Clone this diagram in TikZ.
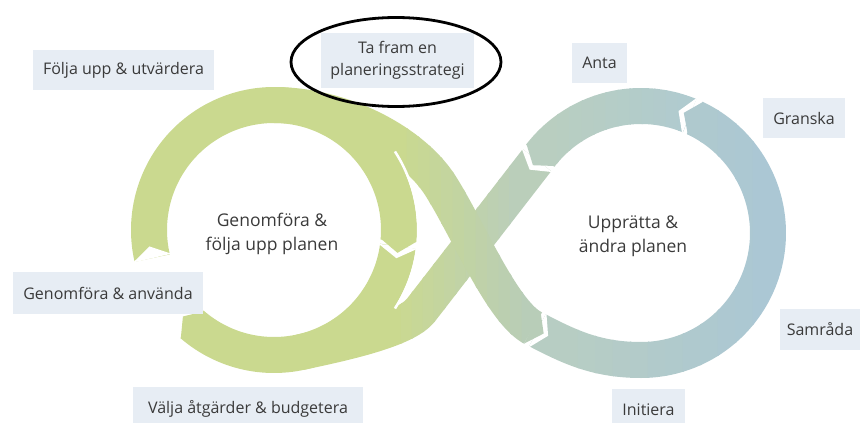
\documentclass[tikz,border=0pt]{standalone}
\usepackage{fontspec}
\setmainfont{Open Sans}
\usetikzlibrary{calc,shapes.geometric}
\definecolor{gL}{RGB}{202,217,143}
\definecolor{gA}{RGB}{184,205,184}
\definecolor{gB}{RGB}{186,206,186}
\definecolor{rA}{RGB}{183,205,195}
\definecolor{rB}{RGB}{171,199,212}
\definecolor{rC}{RGB}{185,206,192}
\definecolor{rD}{RGB}{176,203,207}
\definecolor{boxc}{RGB}{231,237,244}
\definecolor{txtc}{RGB}{58,58,58}
\newcommand{\bandpts}[6]{%
  \coordinate (#6) at ({#1+#3*cos(#4)},{#2+#3*sin(#4)});
  \coordinate (#6d) at ({#1+#3*cos(#4)-(#5)*sin(#4)},{#2+#3*sin(#4)+(#5)*cos(#4)});}
\newcommand{\tipAt}[3]{%
  \coordinate (tb) at ($(#1)!-0.8pt!(#2)$);
  \fill[#3] ($(tb)!18pt!90:(#2)$) -- ($(#1)!12pt!(#2)$) -- ($(tb)!18pt!-90:(#2)$) -- cycle;}
\newcommand{\notchAt}[2]{%
  \fill[white] ($(#1)!19.5pt!90:(#2)$) -- ($(#1)!12pt!(#2)$) -- ($(#1)!19.5pt!-90:(#2)$) -- cycle;}
\newcommand{\gradband}[5]{%
  \foreach \i in {0,...,11}{%
    \pgfmathsetmacro{\xa}{\i==0 ? -100 : #4+(#5-#4)*\i/12}%
    \pgfmathsetmacro{\xb}{\i==11 ? 960 : #4+(#5-#4)*(\i+1)/12+1.5}%
    \pgfmathtruncatemacro{\pc}{100*\i/11}%
    \begin{scope}
      \clip (\xa,-50) rectangle (\xb,480);
      \draw[band,#3!\pc!#2] #1;
    \end{scope}}}
\begin{document}
\begin{tikzpicture}[x=1pt,y=-1pt,
  band/.style={line width=36pt,line join=round},
  lbl/.style={fill=boxc,text=txtc,inner sep=0pt,font=\fontsize{16}{19}\selectfont},
  ctr/.style={align=center,text=txtc,font=\fontsize{17.5}{23.5}\selectfont}]
\useasboundingbox (0,0) rectangle (860,423);
% band A (left loop top -> right loop bottom)
\coordinate (A0) at (274,105);
\coordinate (A1) at (344,105);
\coordinate (A2) at (413,143);
\coordinate (A3) at (440,185);
\coordinate (A4) at (467,227);
\coordinate (A5) at (502,312);
\coordinate (EA) at (533,328);
\coordinate (EAd) at ($(EA)!-1pt!(A5)$);
\coordinate (SR1) at ($(EA)!-5pt!(A5)$);
\coordinate (SR1d) at ($(EA)!-6pt!(A5)$);
\coordinate (R1c) at ($(EA)!-40pt!(A5)$);
% band B (right loop top -> left loop bottom)
\bandpts{641}{233}{127}{-145}{-1}{SB}
\coordinate (BQ) at (421,310);
\coordinate (B1) at (405.7,329.8);
\coordinate (B2) at (344,342.9);
\coordinate (BE) at (300,352.3);
% strokes
\gradband{(SB) -- (BQ) .. controls (B1) and (B2) .. (BE)}{gL}{gB}{390}{520}
\gradband{(A0) .. controls (A1) and (A2) .. (A3) .. controls (A4) and (A5) .. (EA)}{gL}{gA}{395}{533}
\draw[band,gL] plot[domain=167:365,samples=100] ({274+125*cos(\x)},{230+125*sin(\x)});
\draw[band,gL] plot[domain=367.5:491,samples=70] ({274+125*cos(\x)},{230+125*sin(\x)});
\gradband{(SR1) .. controls (R1c) and (596,360) .. (641,360) -- plot[domain=90:-65,samples=90] ({641+127*cos(\x)},{233+127*sin(\x)})}{rA}{rB}{560}{770}
\gradband{plot[domain=-67.5:-142.5,samples=50] ({641+127*cos(\x)},{233+127*sin(\x)})}{rC}{rD}{545}{690}
% white sliver between ring and crossing bands
\draw[white,line width=2.5pt] plot[domain=-33:33,samples=40] ({274+144.2*cos(\x)},{230+144.2*sin(\x)});
% notches (tails)
\bandpts{274}{230}{125}{167}{1}{L1s}\notchAt{L1s}{L1sd}
\bandpts{274}{230}{125}{367.5}{1}{L2s}\notchAt{L2s}{L2sd}
\notchAt{SR1}{SR1d}
\bandpts{641}{233}{127}{-67.5}{-1}{R2s}\notchAt{R2s}{R2sd}
\notchAt{SB}{BQ}
% tips (heads)
\bandpts{274}{230}{125}{365}{1}{L1e}\tipAt{L1e}{L1ed}{gL}
\bandpts{274}{230}{125}{491}{1}{L2e}\tipAt{L2e}{L2ed}{gL}
\bandpts{641}{233}{127}{-65}{-1}{R1e}\tipAt{R1e}{R1ed}{rB!64!rA}
\bandpts{641}{233}{127}{-142.5}{-1}{R2e}\tipAt{R2e}{R2ed}{rC}
\tipAt{EA}{EAd}{gA}
% labels
\node[lbl,minimum width=181pt,minimum height=40pt] (folja) at (123.5,70) {Följa upp \& utvärdera};
\node[lbl,minimum width=153pt,minimum height=55pt,align=center,font=\fontsize{16}{22}\selectfont] (tafram) at (397.5,60.5) {Ta fram en\\planeringsstrategi};
\node[lbl,minimum width=55pt,minimum height=40pt] (anta) at (599.5,63) {Anta};
\node[lbl,minimum width=82pt,minimum height=40pt] (granska) at (804,118) {Granska};
\node[lbl,minimum width=190pt,minimum height=42pt] (genomanv) at (108,293) {Genomföra \& använda};
\node[lbl,minimum width=230pt,minimum height=44pt] (valja) at (248,409) {Välja åtgärder \& budgetera};
\node[lbl,minimum width=80pt,minimum height=41pt] (samrada) at (820,329.5) {Samråda};
\node[lbl,minimum width=73pt,minimum height=42pt] (initiera) at (648.5,410) {Initiera};
\node[ctr] (gfl) at (272,234) {Genomföra \&\\följa upp planen};
\node[ctr] (upp) at (633,236) {Upprätta \&\\ändra planen};
\node[draw=black,ellipse,line width=2.8pt,minimum width=210pt,minimum height=89pt,inner sep=0pt] (mark) at (396,62) {};
\end{tikzpicture}
\end{document}
